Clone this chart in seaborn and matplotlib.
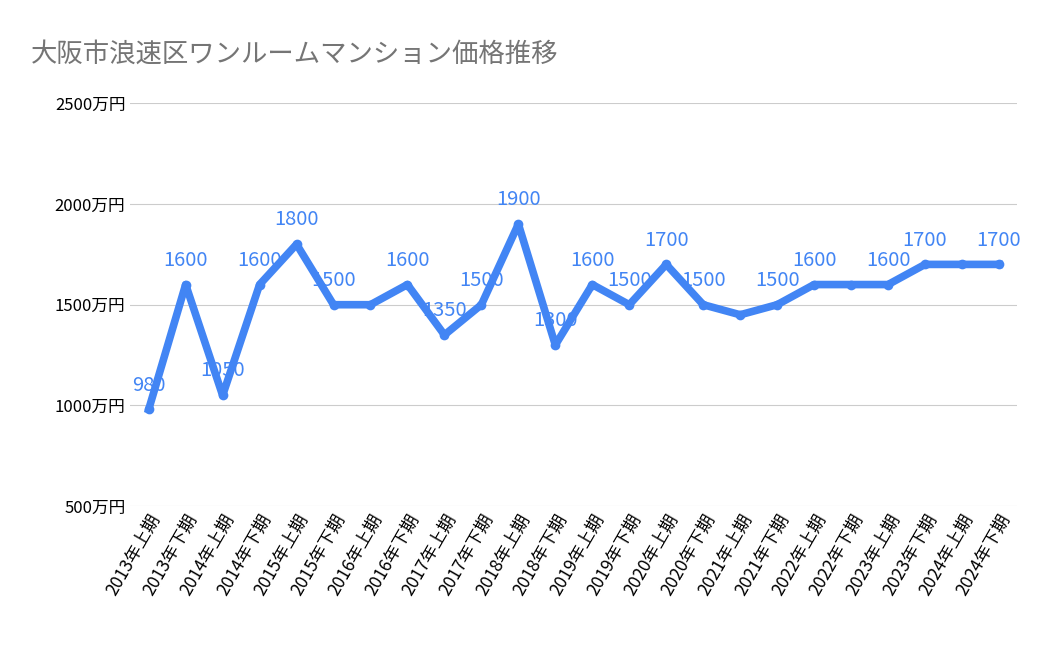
import matplotlib
matplotlib.use("Agg")
import matplotlib.pyplot as plt
import seaborn as sns
import pandas as pd

periods = [f"{y}年{h}期" for y in range(2013, 2025) for h in ("上", "下")]
prices = [980, 1600, 1050, 1600, 1800, 1500, 1500, 1600, 1350, 1500, 1900, 1300,
          1600, 1500, 1700, 1500, 1450, 1500, 1600, 1600, 1600, 1700, 1700, 1700]
# labels that the original shows (overlapping ones are hidden)
shown = [1, 1, 1, 1, 1, 1, 0, 1, 1, 1, 1, 1, 1, 1, 1, 1, 0, 1, 1, 0, 1, 1, 0, 1]
yticks = [500, 1000, 1500, 2000, 2500]

plt.rcParams["font.family"] = ["Noto Sans CJK JP", "DejaVu Sans"]
blue = "#4285F4"

df = pd.DataFrame({"period": periods, "price": prices})
df["x"] = range(len(df))

fig = plt.figure(figsize=(10.5, 6.49), dpi=100)
ax = fig.add_axes([0.124, 0.220, 0.845, 0.621])
sns.lineplot(data=df, x="x", y="price", ax=ax, color=blue, linewidth=5.5,
             marker="o", markersize=7, markeredgewidth=0)

for i, (v, s) in enumerate(zip(prices, shown)):
    if s:
        ax.annotate(str(v), (i, v), xytext=(0, 10), textcoords="offset points",
                    ha="center", va="bottom", color=blue, fontsize=14.5)

ax.set_xlim(-0.5, len(periods) - 0.5)
ax.set_ylim(500, 2500)
ax.set_yticks(yticks)
ax.set_yticklabels([f"{t}万円" for t in yticks], fontsize=12)
ax.set_xticks(range(len(periods)))
ax.set_xticklabels(periods, rotation=60, ha="right", rotation_mode="anchor", fontsize=12.5)
ax.grid(axis="y", color="#cccccc", linewidth=0.8)
ax.grid(axis="x", visible=False)
ax.set_xlabel("")
ax.set_ylabel("")
for sp in ax.spines.values():
    sp.set_visible(False)
ax.tick_params(length=0)
ax.set_axisbelow(True)

fig.text(0.029, 0.905, "大阪市浪速区ワンルームマンション価格推移", fontsize=19, color="#757575")
fig.savefig("out.png", dpi=100)
